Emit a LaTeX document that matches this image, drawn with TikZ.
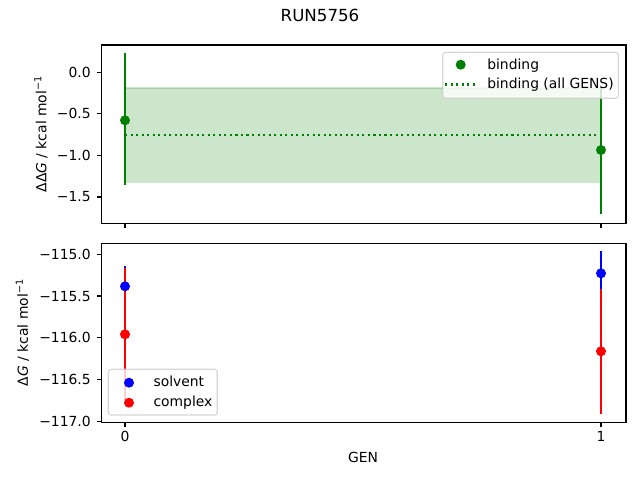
\documentclass[tikz,border=0pt]{standalone}
\usepackage{fontspec}
\setmainfont{DejaVu Sans}
\definecolor{mgreen}{HTML}{008000}
\definecolor{mblue}{HTML}{0000FF}
\definecolor{mred}{HTML}{FF0000}
\definecolor{legedge}{HTML}{CCCCCC}
\begin{document}
\begin{tikzpicture}[x=0.72pt,y=-0.72pt,
  every node/.style={inner sep=0pt,font=\fontsize{10}{12}\selectfont},
  frame/.style={line width=0.8pt,black},
  tickmark/.style={line width=0.8pt,black},
  ebar/.style={line width=1.5pt},
  dot/.style={radius=3.6pt},
  legendbox/.style={draw=legedge,fill=white,fill opacity=0.8,draw opacity=0.8,rounded corners=2pt,line width=0.8pt},
  dotline/.style={mgreen,line width=1.5pt,dash pattern=on 1.5pt off 2.475pt},
  ylab/.style={rotate=90,anchor=center},
  ytl/.style={anchor=east},
  xtl/.style={anchor=base}]
\useasboundingbox (0,0) rectangle (640,480);

% ---------- title ----------
\node[anchor=base,font=\fontsize{12}{14}\selectfont] (title) at (320,21) {RUN5756};

% ---------- top panel ----------
\fill[mgreen,opacity=0.2] (125,88) rectangle (601,182.3);
\draw[mgreen,opacity=0.2,line width=1pt] (125,88) rectangle (601,182.3);
\coordinate (dl1) at (125,135);
\coordinate (dl2) at (601,135);
\draw[dotline] (dl1) -- (dl2);
\coordinate (t0a) at (125,53.3);
\coordinate (t0b) at (125,185.3);
\coordinate (t1a) at (601,85.7);
\coordinate (t1b) at (601,214.3);
\draw[ebar,mgreen] (t0a) -- (t0b);
\draw[ebar,mgreen] (t1a) -- (t1b);
\fill[mgreen] (125,120.3) circle[dot];
\fill[mgreen] (601,150) circle[dot];

\draw[frame] (101.5,45) rectangle (626,223.3);
\foreach \yy/\lab in {72.3/0.0,113.9/−0.5,155.4/−1.0,197.0/−1.5}{
  \draw[tickmark] (101.5,\yy) -- (96.6,\yy);
  \node[ytl] at (91,\yy) {\lab};
}
\foreach \xx in {125,601}{
  \draw[tickmark] (\xx,223.3) -- (\xx,228.2);
}
\node[ylab] (ylabtop) at (41,134) {ΔΔ\textit{G} / kcal mol\textsuperscript{−1}};

% top legend
\draw[legendbox] (442.7,52.3) rectangle (618.3,98.3);
\fill[mgreen] (460.7,64.7) circle[dot];
\coordinate (lg1) at (445.3,84.5);
\coordinate (lg2) at (474.7,84.5);
\draw[dotline] (lg1) -- (lg2);
\node[anchor=base west] (lbind) at (487,69) {binding};
\node[anchor=base west] (lbindall) at (487,88.7) {binding (all GENS)};

% ---------- bottom panel ----------
\draw[ebar,mblue] (125,265.7) -- (125,306.9);
\draw[ebar,mblue] (601,250.7) -- (601,295.9);
\draw[ebar,mred] (125,268.3) -- (125,400.3);
\draw[ebar,mred] (601,288.9) -- (601,413.7);
\fill[mblue] (125,286.3) circle[dot];
\fill[mblue] (601,273.3) circle[dot];
\fill[mred] (125,334.3) circle[dot];
\fill[mred] (601,351.3) circle[dot];

\draw[frame] (101.5,243.3) rectangle (626,422.3);
\foreach \yy/\lab in {254.3/−115.0,296.05/−115.5,337.8/−116.0,379.55/−116.5,421.3/−117.0}{
  \draw[tickmark] (101.5,\yy) -- (96.6,\yy);
  \node[ytl] at (91,\yy) {\lab};
}
\foreach \xx/\lab in {125/0,601/1}{
  \draw[tickmark] (\xx,422.3) -- (\xx,427.2);
  \node[xtl] at (\xx,441.7) {\lab};
}
\node[ylab] (ylabbot) at (22.5,332.5) {Δ\textit{G} / kcal mol\textsuperscript{−1}};
\node[anchor=base] (xlab) at (363,462.3) {GEN};

% bottom legend
\draw[legendbox] (108.3,369.3) rectangle (217.3,415);
\fill[mblue] (129,382.7) circle[dot];
\fill[mred] (129,402.7) circle[dot];
\node[anchor=base west] (lsolv) at (153.3,386) {solvent};
\node[anchor=base west] (lcomp) at (153.3,406) {complex};
\end{tikzpicture}
\end{document}
